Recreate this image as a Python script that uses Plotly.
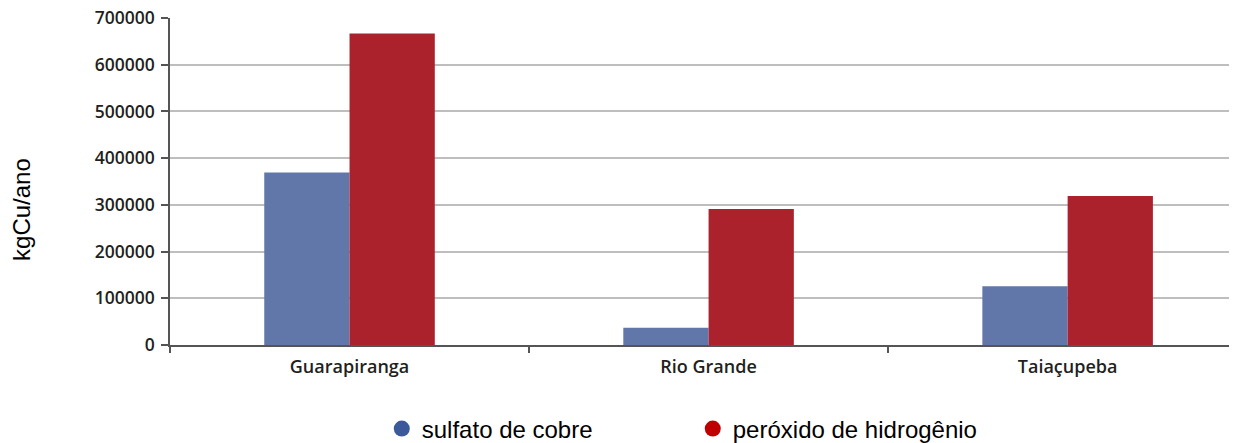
import plotly.graph_objects as go

categories = ["Guarapiranga", "Rio Grande", "Taiaçupeba"]
sulfato = [369000, 37000, 126000]
peroxido = [667000, 291000, 319000]
series_names = ["sulfato de cobre", "peróxido de hidrogênio"]
bar_colors = ["#6177A9", "#AB222C"]
legend_colors = ["#3C5A9A", "#C00000"]

fig = go.Figure()
for name, vals, col in zip(series_names, [sulfato, peroxido], bar_colors):
    fig.add_trace(go.Bar(x=categories, y=vals, name=name, marker_color=col,
                         marker_line_width=0, showlegend=False))
for name, col in zip(series_names, legend_colors):
    fig.add_trace(go.Scatter(x=[None], y=[None], mode="markers", name=name,
                             marker=dict(symbol="circle", size=22, color=col)))

tick_font = dict(family="Open Sans, Liberation Sans, Arial", weight=600, color="#231F20")

fig.update_layout(
    width=1237, height=443,
    margin=dict(l=162, r=0, t=10, b=106, autoexpand=False),
    plot_bgcolor="white", paper_bgcolor="white",
    barmode="group", bargap=0.525, bargroupgap=0,
    font=dict(family="Liberation Sans, Arial", color="#231F20"),
    legend=dict(orientation="h", x=0.197, y=-0.188, xanchor="left", yanchor="top",
                font=dict(family="Liberation Sans, Arial", size=24, color="#000000"),
                itemwidth=30, tracegroupgap=0, entrywidth=266),
    showlegend=True,
)
fig.update_xaxes(
    range=[-0.5, 2.494], tickson="boundaries", ticks="outside", ticklen=6,
    tickcolor="#555555", tickwidth=1.5, showline=True, linecolor="#555555", linewidth=1.5,
    tickfont=dict(size=18, **tick_font), ticklabelstandoff=5,
    showgrid=False, automargin=False,
)
fig.update_yaxes(
    range=[0, 700000], dtick=100000, tickformat="d",
    ticks="outside", ticklen=7, tickcolor="#555555", tickwidth=1.5,
    showline=True, linecolor="#555555", linewidth=1.5,
    gridcolor="#BEBEBE", gridwidth=1.8, zeroline=False,
    tickfont=dict(size=17.5, **tick_font), ticklabelstandoff=3,
    ticklabeloverflow="allow", automargin=False,
)
fig.add_annotation(text="kgCu/ano", xref="paper", yref="paper", x=-0.1377, y=0.416,
                   xanchor="center", yanchor="middle", textangle=-90, showarrow=False,
                   font=dict(family="Liberation Sans, Arial", size=24, color="#000000"))

fig.write_html("out.html")
